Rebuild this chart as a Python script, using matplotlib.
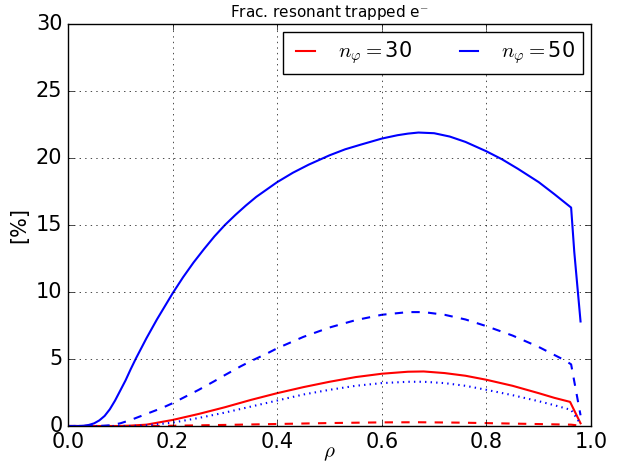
import numpy as np
import matplotlib
matplotlib.use("Agg")
import matplotlib.pyplot as plt

plt.style.use('classic')

# n_phi = 50, solid
rho_b1 = [0.0, 0.02, 0.03, 0.04, 0.05, 0.06, 0.07, 0.08, 0.09, 0.10, 0.11, 0.12, 0.13,
          0.14, 0.15, 0.16, 0.17, 0.18, 0.19, 0.20, 0.22, 0.24, 0.26, 0.28, 0.30, 0.32,
          0.34, 0.36, 0.38, 0.40, 0.43, 0.46, 0.50, 0.53, 0.56, 0.60, 0.63, 0.65, 0.67,
          0.70, 0.73, 0.76, 0.80, 0.83, 0.86, 0.90, 0.93, 0.962, 0.968, 0.98]
frac_b1 = [0, 0, 0.02, 0.08, 0.2, 0.42, 0.75, 1.25, 1.9, 2.65, 3.4, 4.25, 5.05,
           5.8, 6.55, 7.25, 7.95, 8.6, 9.25, 9.9, 11.1, 12.2, 13.2, 14.15, 15.0, 15.75,
           16.45, 17.1, 17.65, 18.2, 18.9, 19.5, 20.2, 20.65, 21.0, 21.45, 21.7, 21.82, 21.9,
           21.85, 21.6, 21.2, 20.5, 19.9, 19.2, 18.2, 17.3, 16.3, 13.0, 7.8]

# n_phi = 50, dashed
rho_b2 = [0.0, 0.06, 0.08, 0.10, 0.12, 0.15, 0.18, 0.20, 0.23, 0.25, 0.28, 0.30, 0.33,
          0.35, 0.38, 0.40, 0.45, 0.50, 0.55, 0.60, 0.65, 0.68, 0.72, 0.76, 0.80, 0.85,
          0.90, 0.95, 0.962, 0.98]
frac_b2 = [0, 0, 0.05, 0.2, 0.45, 0.9, 1.35, 1.7, 2.3, 2.7, 3.35, 3.8, 4.45,
           4.85, 5.4, 5.8, 6.65, 7.35, 7.9, 8.3, 8.5, 8.5, 8.3, 7.95, 7.45, 6.75,
           5.9, 4.9, 4.6, 0.8]

# n_phi = 50, dotted
rho_b3 = [0.0, 0.12, 0.15, 0.20, 0.25, 0.30, 0.35, 0.40, 0.45, 0.50, 0.55, 0.60, 0.65,
          0.68, 0.72, 0.76, 0.80, 0.85, 0.90, 0.93, 0.962, 0.98]
frac_b3 = [0, 0, 0.05, 0.25, 0.6, 1.0, 1.45, 1.9, 2.35, 2.7, 3.0, 3.2, 3.3,
           3.3, 3.2, 3.0, 2.7, 2.3, 1.85, 1.55, 1.2, 0.15]

# n_phi = 30, solid
rho_r1 = [0.0, 0.10, 0.12, 0.15, 0.20, 0.25, 0.30, 0.35, 0.40, 0.45, 0.50, 0.55, 0.60,
          0.65, 0.68, 0.72, 0.76, 0.80, 0.85, 0.90, 0.93, 0.96, 0.98]
frac_r1 = [0, 0, 0.03, 0.1, 0.45, 0.9, 1.4, 1.95, 2.45, 2.9, 3.3, 3.65, 3.9,
           4.05, 4.07, 3.95, 3.75, 3.45, 3.0, 2.45, 2.1, 1.8, 0.2]

# n_phi = 30, dashed
rho_r2 = [0.0, 0.15, 0.20, 0.30, 0.40, 0.50, 0.60, 0.67, 0.75, 0.85, 0.962, 0.98]
frac_r2 = [0, 0, 0.02, 0.08, 0.15, 0.22, 0.27, 0.28, 0.25, 0.18, 0.1, 0.02]

labels = [r'$n_\varphi=$30', r'$n_\varphi=$50']

fig = plt.figure(figsize=(6.25, 4.67), dpi=100, facecolor='white')
ax = fig.add_axes([0.1088, 0.0878, 0.8368, 0.8608])

ax.plot(rho_r1, frac_r1, 'r-', lw=1.5, label=labels[0])
ax.plot(rho_b1, frac_b1, 'b-', lw=1.5, label=labels[1])
ax.plot(rho_r2, frac_r2, 'r--', lw=1.5)
ax.plot(rho_b2, frac_b2, 'b--', lw=1.5)
ax.plot(rho_b3, frac_b3, 'b:', lw=1.5)

ax.set_xlim(0, 1)
ax.set_ylim(0, 30)
ax.grid(True)
ax.tick_params(labelsize=15)
ax.set_xlabel(r'$\rho$', fontsize=15, labelpad=-6)
ax.set_ylabel('[%]', fontsize=15)
ax.set_title(r'Frac. resonant trapped e$^{-}$', fontsize=11)
ax.legend(loc='upper right', ncol=2, fontsize=15, handlelength=1.5,
          borderaxespad=0.4, borderpad=0.35)

plt.savefig('out.png', dpi=100, facecolor='white')
